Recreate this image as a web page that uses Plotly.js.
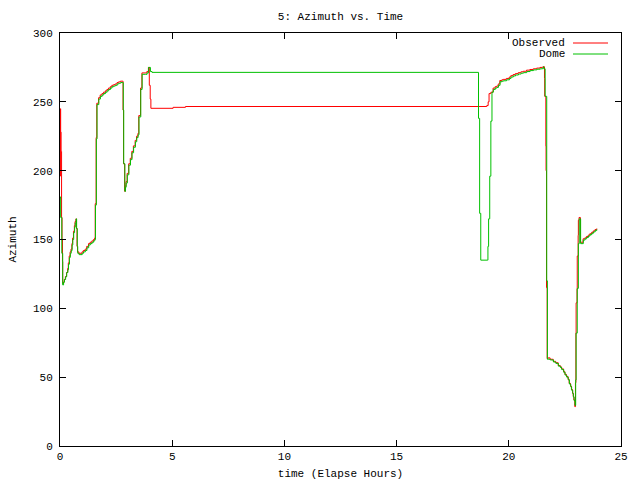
<!DOCTYPE html>
<html>
<head>
<meta charset="utf-8">
<script src="https://cdn.plot.ly/plotly-3.0.1.min.js"></script>
<style>html,body{margin:0;padding:0;background:#fff;}#chart{width:640px;height:480px;}</style>
</head>
<body>
<div id="chart"></div>
<script>
// Observed azimuth (red)
const obsTime = [0, 0.01, 0.015, 0.03, 0.05, 0.07, 0.09, 0.11, 0.12, 0.15, 0.19, 0.24, 0.29, 0.34, 0.37, 0.41, 0.45, 0.49, 0.53, 0.56, 0.6, 0.64, 0.67, 0.71, 0.73, 0.76, 0.78, 0.84, 0.98, 1.04, 1.12, 1.19, 1.27, 1.34, 1.42, 1.49, 1.54, 1.57, 1.61, 1.64, 1.72, 1.79, 1.87, 1.94, 2.02, 2.09, 2.16, 2.24, 2.31, 2.39, 2.46, 2.54, 2.61, 2.69, 2.8, 2.81, 2.83, 2.88, 2.91, 2.94, 2.99, 3.06, 3.13, 3.2, 3.27, 3.35, 3.41, 3.47, 3.51, 3.59, 3.65, 3.79, 3.87, 3.94, 3.98, 4.02, 4.05, 5.04, 5.59, 19.02, 19.08, 19.12, 19.2, 19.3, 19.39, 19.46, 19.53, 19.6, 19.69, 19.75, 19.89, 20.02, 20.09, 20.19, 20.29, 20.42, 20.54, 20.64, 20.79, 20.94, 21.09, 21.24, 21.39, 21.5, 21.53, 21.59, 21.6, 21.65, 21.66, 21.68, 21.71, 21.75, 21.84, 21.98, 22.09, 22.2, 22.29, 22.35, 22.44, 22.5, 22.57, 22.64, 22.69, 22.75, 22.79, 22.84, 22.87, 22.9, 22.94, 22.97, 22.99, 23.0, 23.04, 23.05, 23.09, 23.1, 23.13, 23.19, 23.31, 23.39, 23.46, 23.54, 23.61, 23.69, 23.76, 23.84, 23.92];
const obsAz = [228, 196, 245, 228, 214, 166, 150, 134, 118, 119, 121, 123, 126, 129, 133, 138, 141, 143, 147, 151, 156, 160, 163, 165, 158, 145, 141, 140, 141, 142, 143, 145, 147, 148, 149, 150, 151, 176, 224, 249, 253, 255, 256, 257, 258, 259, 260, 261, 262, 262.5, 263, 264, 264.5, 265, 265, 244, 205, 185, 189, 192, 198, 205, 209, 214, 218, 222, 225, 227, 240, 260, 271, 271, 272, 275, 262, 252, 245.3, 246, 246.6, 247.3, 250, 256, 257, 260, 261, 261.5, 263, 265.5, 266, 266.3, 267, 268, 269, 269.8, 270.5, 271.2, 271.8, 272.2, 273, 273.5, 274, 274.5, 275, 275.2, 275.5, 267, 254, 218, 200, 115, 63.5, 64, 63, 61.5, 60.5, 58.5, 57.5, 56, 54, 52, 50.5, 48.5, 45.5, 43.5, 41, 38.5, 36, 33.5, 28.6, 46, 82, 104, 114, 138, 153, 164, 166, 148, 150.5, 151.2, 152.2, 153.2, 154.2, 155.2, 156.2, 157.2, 158];

// Dome azimuth (green)
const domeTime = [0, 0.02, 0.03, 0.08, 0.12, 0.16, 0.2, 0.25, 0.3, 0.35, 0.38, 0.42, 0.46, 0.5, 0.54, 0.57, 0.61, 0.65, 0.68, 0.72, 0.74, 0.77, 0.79, 0.85, 0.99, 1.05, 1.13, 1.2, 1.28, 1.35, 1.43, 1.5, 1.55, 1.58, 1.62, 1.65, 1.73, 1.8, 1.88, 1.95, 2.03, 2.1, 2.17, 2.25, 2.32, 2.4, 2.47, 2.55, 2.62, 2.7, 2.8, 2.82, 2.84, 2.89, 2.92, 2.95, 3.0, 3.07, 3.14, 3.21, 3.28, 3.36, 3.42, 3.48, 3.52, 3.6, 3.66, 3.8, 3.88, 3.95, 4.03, 4.1, 18.63, 18.65, 18.7, 18.75, 19.05, 19.07, 19.1, 19.15, 19.2, 19.25, 19.31, 19.4, 19.47, 19.54, 19.61, 19.7, 19.76, 19.9, 20.03, 20.1, 20.2, 20.3, 20.43, 20.55, 20.65, 20.8, 20.95, 21.1, 21.25, 21.4, 21.51, 21.54, 21.56, 21.62, 21.69, 21.72, 21.76, 21.85, 21.99, 22.1, 22.21, 22.3, 22.36, 22.45, 22.51, 22.58, 22.65, 22.7, 22.76, 22.8, 22.85, 22.88, 22.91, 22.95, 22.98, 23.0, 23.05, 23.1, 23.14, 23.2, 23.32, 23.4, 23.47, 23.55, 23.62, 23.7, 23.77, 23.85, 23.92];
const domeAz = [180, 181, 166, 140, 117, 119, 121, 123, 126, 128, 132, 137, 140, 142, 146, 150, 155, 159, 162, 165, 158, 145, 140, 139, 140, 141, 142, 144, 146, 147, 148, 149, 150, 175, 223, 248, 252, 254, 255, 256, 257, 258, 259, 260, 261, 261.5, 262, 263, 263.5, 264, 264, 244, 205, 185, 188, 191, 197, 204, 208, 213, 217, 221, 224, 226, 239, 259, 270, 270, 271, 275, 272, 271.4, 271.4, 238, 169, 135, 135, 145, 165, 196, 236, 257, 259, 260, 260.5, 262, 264.6, 265, 265.3, 266, 267, 268, 268.8, 269.5, 270.2, 270.8, 271.2, 272, 272.7, 273.2, 273.7, 274, 274.4, 275.5, 274, 254, 120, 63, 63, 62.5, 61, 60, 58, 57, 55.5, 53.5, 51.5, 50, 48, 45, 43, 40.5, 38, 35.5, 33, 29.5, 48, 82, 114.5, 147, 165, 147, 149.6, 150.5, 151.5, 152.5, 153.5, 154.5, 155.5, 156.5, 157.4];

const seriesNames = ['Observed', 'Dome'];
const titleText = '5: Azimuth vs. Time';
const xTitle = 'time (Elapse Hours)';
const yTitle = 'Azimuth';

const FONT = 'Liberation Mono, DejaVu Sans Mono, monospace';
const RED = '#ff0000';
const GREEN = '#00c000';

const traces = [
  {x: obsTime, y: obsAz, name: seriesNames[0], type: 'scatter', mode: 'lines',
   line: {color: RED, width: 1, shape: 'hv'}, showlegend: false},
  {x: domeTime, y: domeAz, name: seriesNames[1], type: 'scatter', mode: 'lines',
   line: {color: GREEN, width: 1, shape: 'hv'}, showlegend: false}
];

const axisCommon = {
  showline: true, mirror: 'ticks', linecolor: '#000', linewidth: 1,
  ticks: 'inside', ticklen: 6, tickcolor: '#000', tickwidth: 1,
  showgrid: false, zeroline: false, tickfont: {family: FONT, size: 11, color: '#000'}
};

const layout = {
  width: 640, height: 480,
  margin: {l: 60, r: 19, t: 33, b: 34},
  paper_bgcolor: '#fff', plot_bgcolor: '#fff',
  font: {family: FONT, size: 11, color: '#000'},
  title: {text: titleText, font: {family: FONT, size: 11, color: '#000'},
          x: 0.5, xref: 'paper', y: 1 - 16/480, yanchor: 'middle', xanchor: 'center'},
  xaxis: Object.assign({}, axisCommon, {range: [0, 25], tickmode: 'linear', tick0: 0, dtick: 5,
          title: {text: xTitle, font: {family: FONT, size: 11, color: '#000'}, standoff: 7}}),
  yaxis: Object.assign({}, axisCommon, {range: [0, 300], tickmode: 'linear', tick0: 0, dtick: 50,
          ticklabelstandoff: 4,
          title: {text: yTitle, font: {family: FONT, size: 11, color: '#000'}, standoff: 14}}),
  annotations: [
    {xref: 'paper', yref: 'paper', x: 0.903, y: (446-43)/413, text: seriesNames[0], showarrow: false,
     xanchor: 'right', yanchor: 'middle', font: {family: FONT, size: 11, color: '#000'}},
    {xref: 'paper', yref: 'paper', x: 0.903, y: (446-54)/413, text: seriesNames[1], showarrow: false,
     xanchor: 'right', yanchor: 'middle', font: {family: FONT, size: 11, color: '#000'}}
  ],
  shapes: [
    {type: 'line', xref: 'paper', yref: 'paper', x0: (573-60)/561, x1: (608-60)/561,
     y0: (446-43)/413, y1: (446-43)/413, line: {color: RED, width: 1}},
    {type: 'line', xref: 'paper', yref: 'paper', x0: (573-60)/561, x1: (608-60)/561,
     y0: (446-54)/413, y1: (446-54)/413, line: {color: GREEN, width: 1}}
  ],
  showlegend: false
};

Plotly.newPlot('chart', traces, layout, {staticPlot: true, displayModeBar: false});
</script>
</body>
</html>
